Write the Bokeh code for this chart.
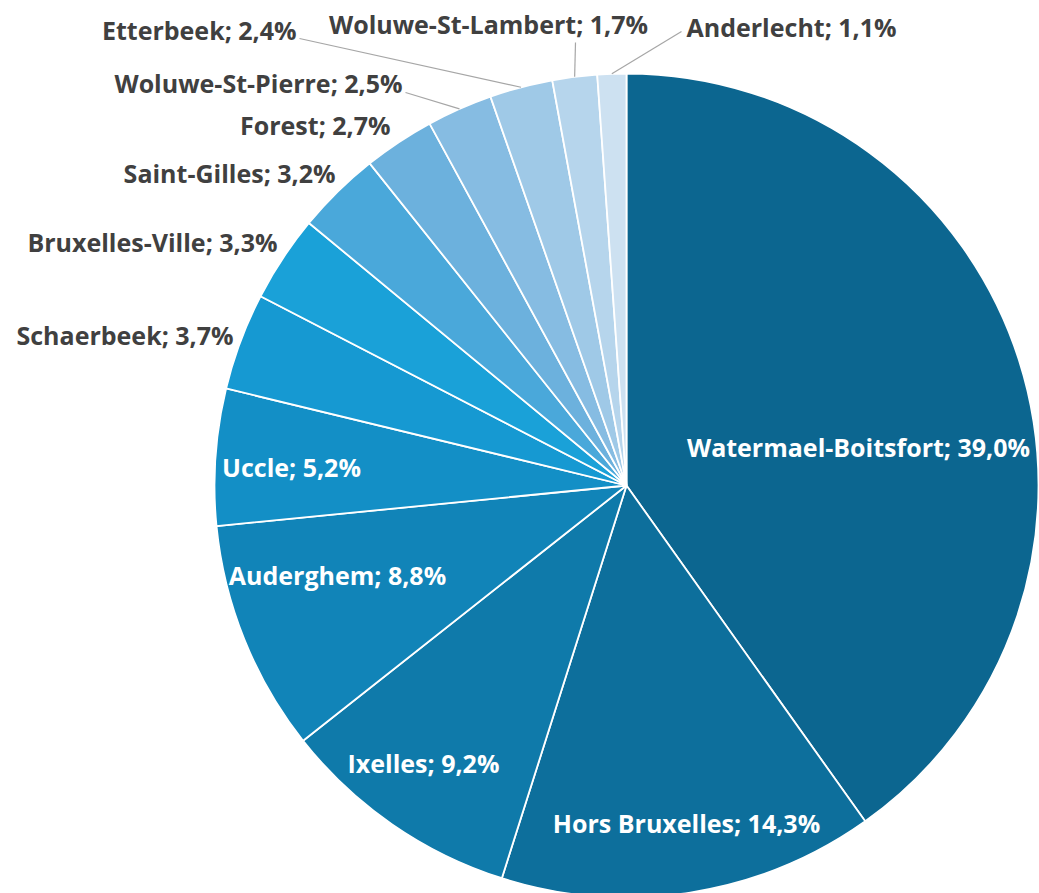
import math
from bokeh.plotting import figure
from bokeh.models import Range1d, ColumnDataSource
from bokeh.core.properties import value
from bokeh.embed import file_html
from bokeh.resources import INLINE

# ---- data ----
communes = ["Watermael-Boitsfort", "Hors Bruxelles", "Ixelles", "Auderghem", "Uccle",
            "Schaerbeek", "Bruxelles-Ville", "Saint-Gilles", "Forest", "Woluwe-St-Pierre",
            "Etterbeek", "Woluwe-St-Lambert", "Anderlecht"]
percent = [39.0, 14.3, 9.2, 8.8, 5.2, 3.7, 3.3, 3.2, 2.7, 2.5, 2.4, 1.7, 1.1]

# ---- styles ----
colors = ["#0c6690", "#0d6f9c", "#0f7aaa", "#1184b8", "#138fc6", "#1699d2", "#1aa1d8",
          "#4aa8da", "#6cb1dd", "#86bce2", "#9fc9e7", "#b6d5ec", "#cde1f1"]
label_color = ["white"] * 5 + ["#404040"] * 8
# label anchor positions (screen px) and alignment
label_pos = [(858, 446), (686, 822), (423, 762), (337, 574), (291, 466),
             (233, 334), (277, 241), (335, 172), (390, 124), (402, 82),
             (296, 29), (488, 23), (686, 26)]
label_align = ["center"] * 5 + ["right"] * 6 + ["center", "left"]
# leader lines: label-side end (screen px) for slices that have one
leader_end = {9: (405, 92), 10: (299, 38), 11: (575, 42), 12: (681, 31)}

W, H = 1039, 893
CX, CY, R = 626, 485, 412

def Y(sy):
    return H - sy

p = figure(width=W, height=H, output_backend="svg", toolbar_location=None,
           x_range=Range1d(0, W), y_range=Range1d(0, H),
           min_border=0)
p.axis.visible = False
p.grid.visible = False
p.outline_line_color = None
p.background_fill_color = "white"
p.border_fill_color = "white"

total = sum(percent)
starts, ends, mids = [], [], []
cum = 0.0
for v in percent:
    a0 = cum / total * 2 * math.pi
    cum += v
    a1 = cum / total * 2 * math.pi
    starts.append(math.pi / 2 - a0)
    ends.append(math.pi / 2 - a1)
    mids.append((a0 + a1) / 2)

src = ColumnDataSource(dict(start=starts, end=ends, color=colors, name=communes))
p.wedge(x=CX, y=Y(CY), radius=R, start_angle="start", end_angle="end",
        direction="clock", fill_color="color", line_color="white", line_width=1.8,
        source=src)

# leader lines
xs, ys = [], []
for i, (lx, ly) in leader_end.items():
    ex = CX + R * math.sin(mids[i])
    ey = CY - R * math.cos(mids[i])
    xs.append([lx, ex])
    ys.append([Y(ly), Y(ey)])
p.multi_line(xs=xs, ys=ys, line_color="#a6a6a6", line_width=1.2)

# labels
for i, name in enumerate(communes):
    txt = f"{name}; {percent[i]:.1f}%".replace(".", ",")
    lx, ly = label_pos[i]
    p.text(x=[lx], y=[Y(ly)], text=[txt], text_align=label_align[i],
           text_baseline="middle", text_color=label_color[i],
           text_font=value("Open Sans"), text_font_style="bold",
           text_font_size="25px")

open("out.html", "w").write(file_html(p, INLINE))
